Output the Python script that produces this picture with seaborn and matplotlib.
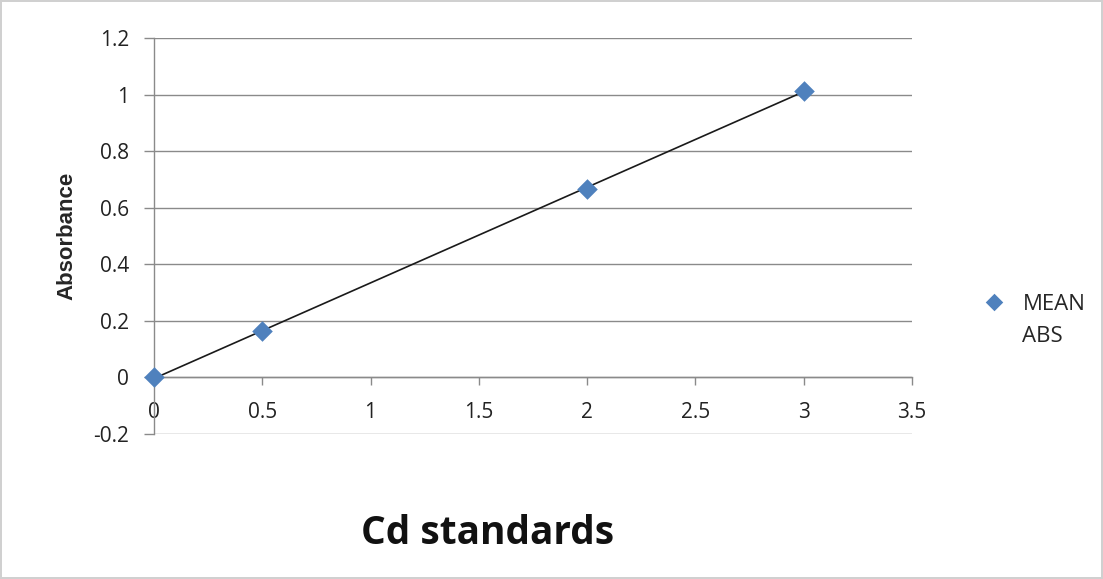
import numpy as np
import pandas as pd
import matplotlib
matplotlib.use("Agg")
import matplotlib.pyplot as plt
import seaborn as sns

# Data
conc = [0, 0.5, 2, 3]
mean_abs = [0.0, 0.163, 0.667, 1.014]
x_ticks = [0, 0.5, 1, 1.5, 2, 2.5, 3, 3.5]
x_tick_labels = ["0", "0.5", "1", "1.5", "2", "2.5", "3", "3.5"]
y_ticks = [-0.2, 0, 0.2, 0.4, 0.6, 0.8, 1.0, 1.2]
y_tick_labels = ["-0.2", "0", "0.2", "0.4", "0.6", "0.8", "1", "1.2"]

sns.set_theme(style="white")
plt.rcParams["font.family"] = ["Open Sans", "DejaVu Sans"]

df = pd.DataFrame({"Concentration": conc, "MEAN\nABS": mean_abs})

# linear trendline (least squares) from the data
slope, intercept = np.polyfit(conc, mean_abs, 1)
trend = pd.DataFrame({"x": [min(conc), max(conc)]})
trend["y"] = slope * trend["x"] + intercept

fig = plt.figure(figsize=(11.03, 5.79), dpi=100)
fig.patch.set_facecolor("white")
fig.patch.set_edgecolor("#d0d0d0")
fig.patch.set_linewidth(1.5)
ax = fig.add_axes([0.1396, 0.2504, 0.6872, 0.684])

sns.lineplot(data=trend, x="x", y="y", ax=ax, color="#1a1a1a", linewidth=1.2,
             legend=False, zorder=3)
sns.scatterplot(data=df, x="Concentration", y="MEAN\nABS", ax=ax, marker="D",
                color="#4F81BD", s=110, edgecolor="#4F81BD", linewidth=0,
                label="MEAN\nABS", zorder=4, clip_on=False)

ax.set_xlim(0, 3.5)
ax.set_ylim(-0.2, 1.2)
ax.set_xticks(x_ticks)
ax.set_xticklabels(x_tick_labels)
ax.set_yticks(y_ticks)
ax.set_yticklabels(y_tick_labels)

ax.grid(axis="y", color="#8a8a8a", linewidth=1.0)
ax.grid(axis="x", visible=False)
ax.set_axisbelow(True)

for s in ["top", "right"]:
    ax.spines[s].set_visible(False)
ax.spines["bottom"].set_position(("data", 0))
ax.spines["bottom"].set_color("#8a8a8a")
ax.spines["left"].set_color("#8a8a8a")
ax.spines["bottom"].set_linewidth(1.0)
ax.spines["left"].set_linewidth(1.0)

ax.tick_params(axis="x", direction="out", length=6, width=1, color="#8a8a8a",
               pad=12, labelsize=15, labelcolor="#222222", bottom=True)
ax.tick_params(axis="y", direction="out", length=7, width=1, color="#8a8a8a",
               pad=11, labelsize=15, labelcolor="#222222", left=True)

ax.set_xlabel("")
ax.set_ylabel("Absorbance", fontsize=16, fontweight="bold", labelpad=11,
              family=["Liberation Sans", "DejaVu Sans"])

leg = ax.legend(loc="upper left", bbox_to_anchor=(0.8625, 0.526),
                bbox_transform=fig.transFigure, frameon=False, fontsize=16,
                handletextpad=0.3, markerscale=0.85, handleheight=1.5,
                scatteryoffsets=[0.5])
for t in leg.get_texts():
    t.set_va("baseline")
    t.set_linespacing(1.68)
try:
    for item in leg._legend_handle_box.get_children()[0].get_children():
        item.align = "top"
except Exception:
    pass

fig.text(0.442, 0.078, "Cd standards", ha="center", va="center",
         fontsize=28, fontweight="bold", color="#111111")

fig.savefig("out.png", dpi=100, facecolor=fig.get_facecolor(),
            edgecolor=fig.get_edgecolor())
